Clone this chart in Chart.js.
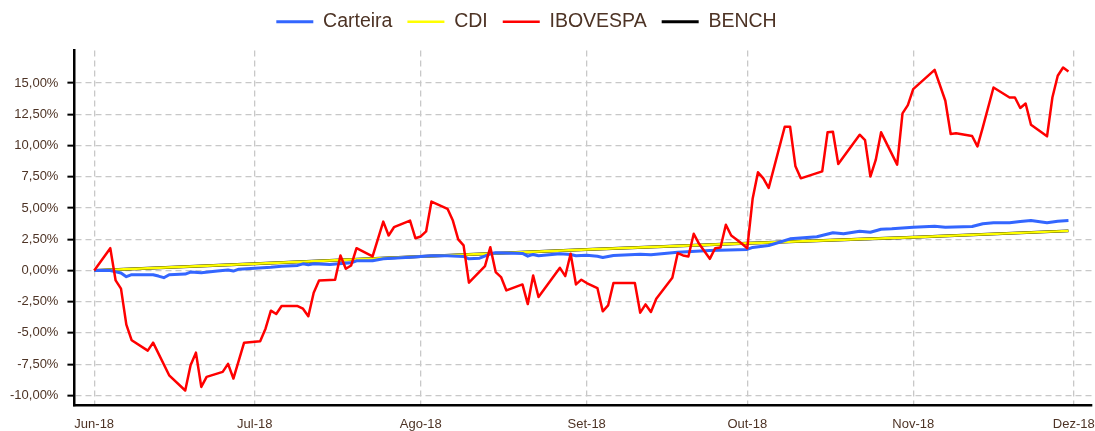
<!DOCTYPE html>
<html>
<head>
<meta charset="utf-8">
<script src="https://cdn.jsdelivr.net/npm/chart.js@4.4.0/dist/chart.umd.min.js"></script>
<style>
    html, body { margin: 0; padding: 0; background: #ffffff; }
    #wrap { width: 1095px; height: 431px; }
</style>
</head>
<body>
<div id="wrap"><canvas id="returns-chart"></canvas></div>
<script>
// x values are days counted from 1 Jun 2018, y values are cumulative returns in %
const xTickDays = [0, 30, 61, 92, 122, 153, 183];
const xTickLabels = ['Jun-18', 'Jul-18', 'Ago-18', 'Set-18', 'Out-18', 'Nov-18', 'Dez-18'];
const yTicks = [-10, -7.5, -5, -2.5, 0, 2.5, 5, 7.5, 10, 12.5, 15];

const carteiraDays = [0, 3, 5, 6, 7, 11, 12, 13, 14, 17, 18, 20, 23, 25, 26, 27, 30, 33, 35, 38, 39, 40, 41, 44,
    48, 49, 52, 54, 59, 63, 66, 69, 70, 72, 74, 75, 80, 81, 82, 83, 87, 89, 90, 92, 94, 95, 97, 102, 104,
    109, 115, 122, 123, 126, 128, 130, 135, 138, 140, 143, 145, 147, 149, 153, 157, 159, 164, 166, 168,
    171, 173, 175, 178, 180, 182];
const carteiraValues = [0, 0, -0.21, -0.5, -0.34, -0.34, -0.45, -0.58, -0.34, -0.29, -0.13, -0.19, -0.05, 0.03,
    -0.05, 0.1, 0.18, 0.26, 0.34, 0.4, 0.53, 0.45, 0.53, 0.48, 0.61, 0.77, 0.77, 0.93, 1.06, 1.17, 1.17,
    1.12, 0.93, 0.98, 1.33, 1.41, 1.36, 1.14, 1.28, 1.17, 1.33, 1.28, 1.17, 1.22, 1.14, 1.04, 1.2, 1.3,
    1.25, 1.46, 1.6, 1.68, 1.84, 2.0, 2.26, 2.53, 2.69, 3.01, 2.93, 3.14, 3.06, 3.3, 3.33, 3.46, 3.54,
    3.46, 3.51, 3.73, 3.81, 3.81, 3.91, 3.99, 3.81, 3.94, 3.99];

const cdiDays = [0, 30, 61, 92, 122, 153, 182];
const cdiValues = [0, 0.53, 1.12, 1.68, 2.18, 2.66, 3.17];

const benchDays = [0, 30, 61, 92, 122, 153, 182];
const benchValues = [0, 0.53, 1.12, 1.68, 2.18, 2.66, 3.17];

const ibovDays = [0, 3, 4, 5, 6, 7, 10, 11, 14, 17, 18, 19, 20, 21, 24, 25, 26, 28, 31, 32, 33, 34, 35, 38,
    39, 40, 41, 42, 45, 46, 47, 48, 49, 52, 54, 55, 56, 59, 60, 61, 62, 63, 66, 67, 68, 69, 70, 73, 74,
    75, 76, 77, 80, 81, 82, 83, 87, 88, 89, 90, 91, 92, 94, 95, 96, 97, 101, 102, 103, 104, 105, 108,
    109, 110, 111, 112, 113, 115, 116, 117, 118, 119, 120, 121, 122, 123, 124, 125, 126, 129, 130, 131,
    132, 136, 137, 138, 139, 143, 144, 145, 146, 147, 150, 151, 152, 153, 157, 159, 160, 161, 164, 165,
    166, 168, 171, 172, 173, 174, 175, 178, 179, 180, 181, 182];
const ibovValues = [0, 1.78, -0.8, -1.46, -4.34, -5.59, -6.42, -5.78, -8.39, -9.61, -7.59, -6.58, -9.32,
    -8.52, -8.12, -7.48, -8.65, -5.78, -5.67, -4.66, -3.22, -3.49, -2.85, -2.85, -3.06, -3.67, -1.78,
    -0.8, -0.74, 1.2, 0.13, 0.4, 1.78, 1.12, 3.91, 2.8, 3.46, 3.99, 2.58, 2.72, 3.12, 5.51, 4.93, 3.99,
    2.48, 2.0, -0.98, 0.34, 1.86, -0.13, -0.53, -1.6, -1.12, -2.69, -0.4, -2.13, 0.21, -0.45, 1.33,
    -1.12, -0.74, -1.01, -1.41, -3.27, -2.8, -1.01, -1.01, -3.38, -2.72, -3.33, -2.26, -0.58, 1.38, 1.2,
    1.12, 2.93, 2.13, 0.93, 1.78, 1.84, 3.65, 2.8, 2.48, 2.13, 1.78, 5.73, 7.85, 7.37, 6.61, 11.5, 11.5,
    8.33, 7.37, 7.93, 11.05, 11.1, 8.52, 10.86, 10.43, 7.51, 8.84, 11.05, 8.47, 12.57, 13.23, 14.51,
    16.05, 13.58, 10.92, 10.97, 10.76, 9.93, 11.45, 14.64, 13.84, 13.84, 13.0, 13.36, 11.66, 10.73,
    13.84, 15.58, 16.24, 15.92];

const textColor = '#4d3325';
const gridColor = '#c8c8c8';

function toPoints(days, values) {
    return days.map((d, i) => ({ x: d, y: values[i] }));
}

// a bit more room under the legend, and nudge it left/up like in the original
const legendTweak = {
    id: 'legendTweak',
    beforeInit(chart) {
        const fit = chart.legend.fit;
        chart.legend.fit = function() {
            fit.call(this);
            this.height += 6;
        };
    },
    afterLayout(chart) {
        chart.legend.left -= 20;
        chart.legend.right -= 20;
        chart.legend.top -= 3;
        chart.legend.bottom -= 3;
    }
};

const ctx = document.getElementById('returns-chart').getContext('2d');

new Chart(ctx, {
    type: 'line',
    data: {
        datasets: [
            {
                label: 'Carteira',
                data: toPoints(carteiraDays, carteiraValues),
                borderColor: '#3366ff',
                backgroundColor: '#3366ff',
                borderWidth: 3,
                order: 1
            },
            {
                label: 'CDI',
                data: toPoints(cdiDays, cdiValues),
                borderColor: '#ffff00',
                backgroundColor: '#ffff00',
                borderWidth: 2.4,
                order: 2
            },
            {
                label: 'IBOVESPA',
                data: toPoints(ibovDays, ibovValues),
                borderColor: '#ff0000',
                backgroundColor: '#ff0000',
                borderWidth: 2.5,
                order: 0
            },
            {
                label: 'BENCH',
                data: toPoints(benchDays, benchValues),
                borderColor: '#000000',
                backgroundColor: '#000000',
                borderWidth: 2.9,
                order: 3
            }
        ]
    },
    options: {
        responsive: true,
        maintainAspectRatio: false,
        animation: false,
        layout: { autoPadding: false, padding: { left: 1, right: 3, top: 0, bottom: -12 } },
        elements: {
            point: { radius: 0, hoverRadius: 0 },
            line: { tension: 0, fill: false, borderJoinStyle: 'round' }
        },
        plugins: {
            tooltip: { enabled: false },
            legend: {
                position: 'top',
                labels: {
                    usePointStyle: true,
                    pointStyle: 'line',
                    pointStyleWidth: 37,
                    padding: 15,
                    color: textColor,
                    font: { family: 'Liberation Sans, Arial, sans-serif', size: 19.5 },
                    sort: (a, b) => a.datasetIndex - b.datasetIndex
                }
            }
        },
        scales: {
            x: {
                type: 'linear',
                min: -3.7,
                max: 186.4,
                afterBuildTicks: axis => {
                    axis.ticks = xTickDays.map(v => ({ value: v }));
                },
                // the last label may hang over the plot edge, as in the original
                afterFit: axis => {
                    axis.paddingLeft = 0;
                    axis.paddingRight = 0;
                },
                ticks: {
                    autoSkip: false,
                    maxRotation: 0,
                    padding: 11,
                    color: textColor,
                    font: { family: 'Liberation Sans, Arial, sans-serif', size: 13 },
                    callback: (value, index) => xTickLabels[index]
                },
                grid: {
                    color: gridColor,
                    lineWidth: 1.3,
                    drawTicks: false
                },
                border: { display: true, color: '#000000', width: 2.5, dash: [6, 4] }
            },
            y: {
                min: -10.8,
                max: 17.6,
                afterBuildTicks: axis => {
                    axis.ticks = yTicks.map(v => ({ value: v }));
                },
                ticks: {
                    padding: 9,
                    color: textColor,
                    font: { family: 'Liberation Sans, Arial, sans-serif', size: 13 },
                    callback: value => value.toFixed(2).replace('.', ',') + '%'
                },
                grid: {
                    color: gridColor,
                    lineWidth: 1.3,
                    tickColor: '#000000',
                    tickLength: 7,
                    tickWidth: 2,
                    tickBorderDash: []
                },
                border: { display: true, color: '#000000', width: 2.5, dash: [6, 4] }
            }
        }
    },
    plugins: [legendTweak]
});
</script>
</body>
</html>
